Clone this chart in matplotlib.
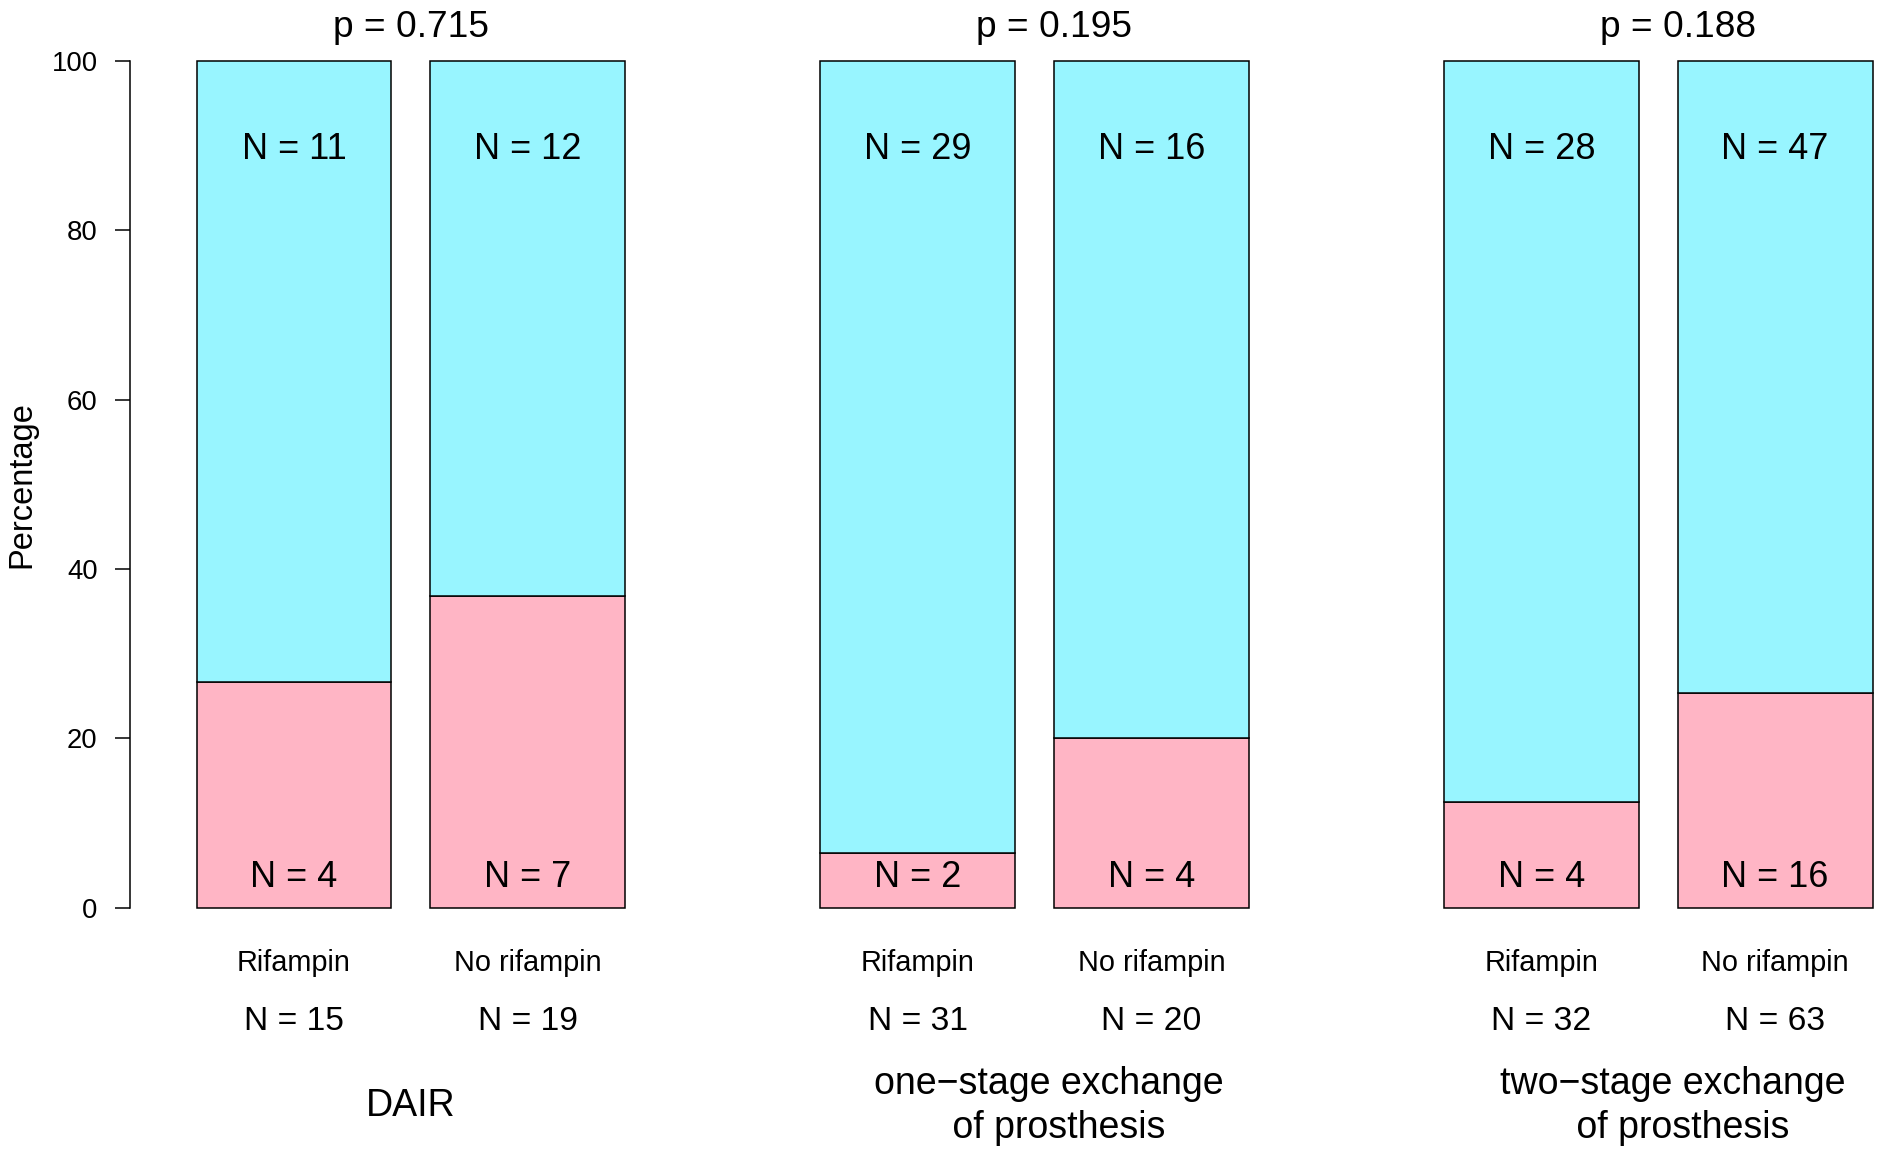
import matplotlib
matplotlib.use('Agg')
import matplotlib.pyplot as plt
import numpy as np

plt.rcParams['font.family'] = ['Liberation Sans', 'DejaVu Sans']

# counts per bar (left to right)
bar_labels = ['Rifampin', 'No rifampin', 'Rifampin', 'No rifampin', 'Rifampin', 'No rifampin']
n_fail = [4, 7, 2, 4, 4, 16]          # pink part
n_success = [11, 12, 29, 16, 28, 47]  # cyan part
groups = ['DAIR', 'one\u2212stage exchange \n of prosthesis', 'two\u2212stage exchange \n of prosthesis']
p_values = ['p = 0.715', 'p = 0.195', 'p = 0.188']

n_fail = np.array(n_fail)
n_success = np.array(n_success)
n_total = n_fail + n_success
pct_fail = 100 * n_fail / n_total
pct_success = 100 * n_success / n_total

# bar layout: width 1, 0.2 space inside group, 1 between groups
lefts = []
x = 0.0
for g in range(3):
    lefts += [x, x + 1.2]
    x += 3.2
lefts = np.array(lefts)
centers = lefts + 0.5
group_centers = (lefts[0::2] + lefts[1::2] + 1) / 2
# the group captions sit a bit right of centre for groups 2 and 3
label_x = group_centers + np.array([0, 0.1, 0.1])

W, H = 1880, 1149
fig = plt.figure(figsize=(W / 100, H / 100), dpi=100)
ax = fig.add_axes([129.5 / W, 1 - 907.6 / H, 1 - 129.5 / W, 846.6 / H])

pink = '#FFB5C5'
cyan = '#98F5FF'
ax.bar(lefts, pct_fail, width=1, align='edge', color=pink, edgecolor='black',
       linewidth=1.1, clip_on=False)
ax.bar(lefts, pct_success, bottom=pct_fail, width=1, align='edge', color=cyan,
       edgecolor='black', linewidth=1.1, clip_on=False)

ax.set_xlim(-0.344, 8.638)
ax.set_ylim(0, 100)

for sp in ['top', 'right', 'bottom']:
    ax.spines[sp].set_visible(False)
ax.spines['left'].set_bounds(0, 100)
ax.spines['left'].set_linewidth(1.1)
ax.set_xticks([])
ax.set_yticks([0, 20, 40, 60, 80, 100])
ax.tick_params(axis='y', length=11, width=1.1, pad=12, labelsize=19.8)

for i in range(6):
    ax.text(centers[i], 89.6, 'N = %d' % n_success[i], ha='center', va='center', fontsize=26)
    ax.text(centers[i], 3.6, 'N = %d' % n_fail[i], ha='center', va='center', fontsize=26)
    ax.text(centers[i], -6.6, bar_labels[i], ha='center', va='center', fontsize=20.8, clip_on=False)
    ax.text(centers[i], -13.4, 'N = %d' % n_total[i], ha='center', va='center', fontsize=24.2, clip_on=False)

for g in range(3):
    ax.text(label_x[g], 104.0, p_values[g], ha='center', va='center', fontsize=26.7, clip_on=False)
    ax.text(label_x[g], -23.4, groups[g], ha='center', va='center', fontsize=27,
            linespacing=1.29, clip_on=False)

fig.text(21.6 / W, 1 - 484.5 / H, 'Percentage', rotation=90, ha='center', va='center', fontsize=23.5)

plt.savefig('out.png', dpi=100)
